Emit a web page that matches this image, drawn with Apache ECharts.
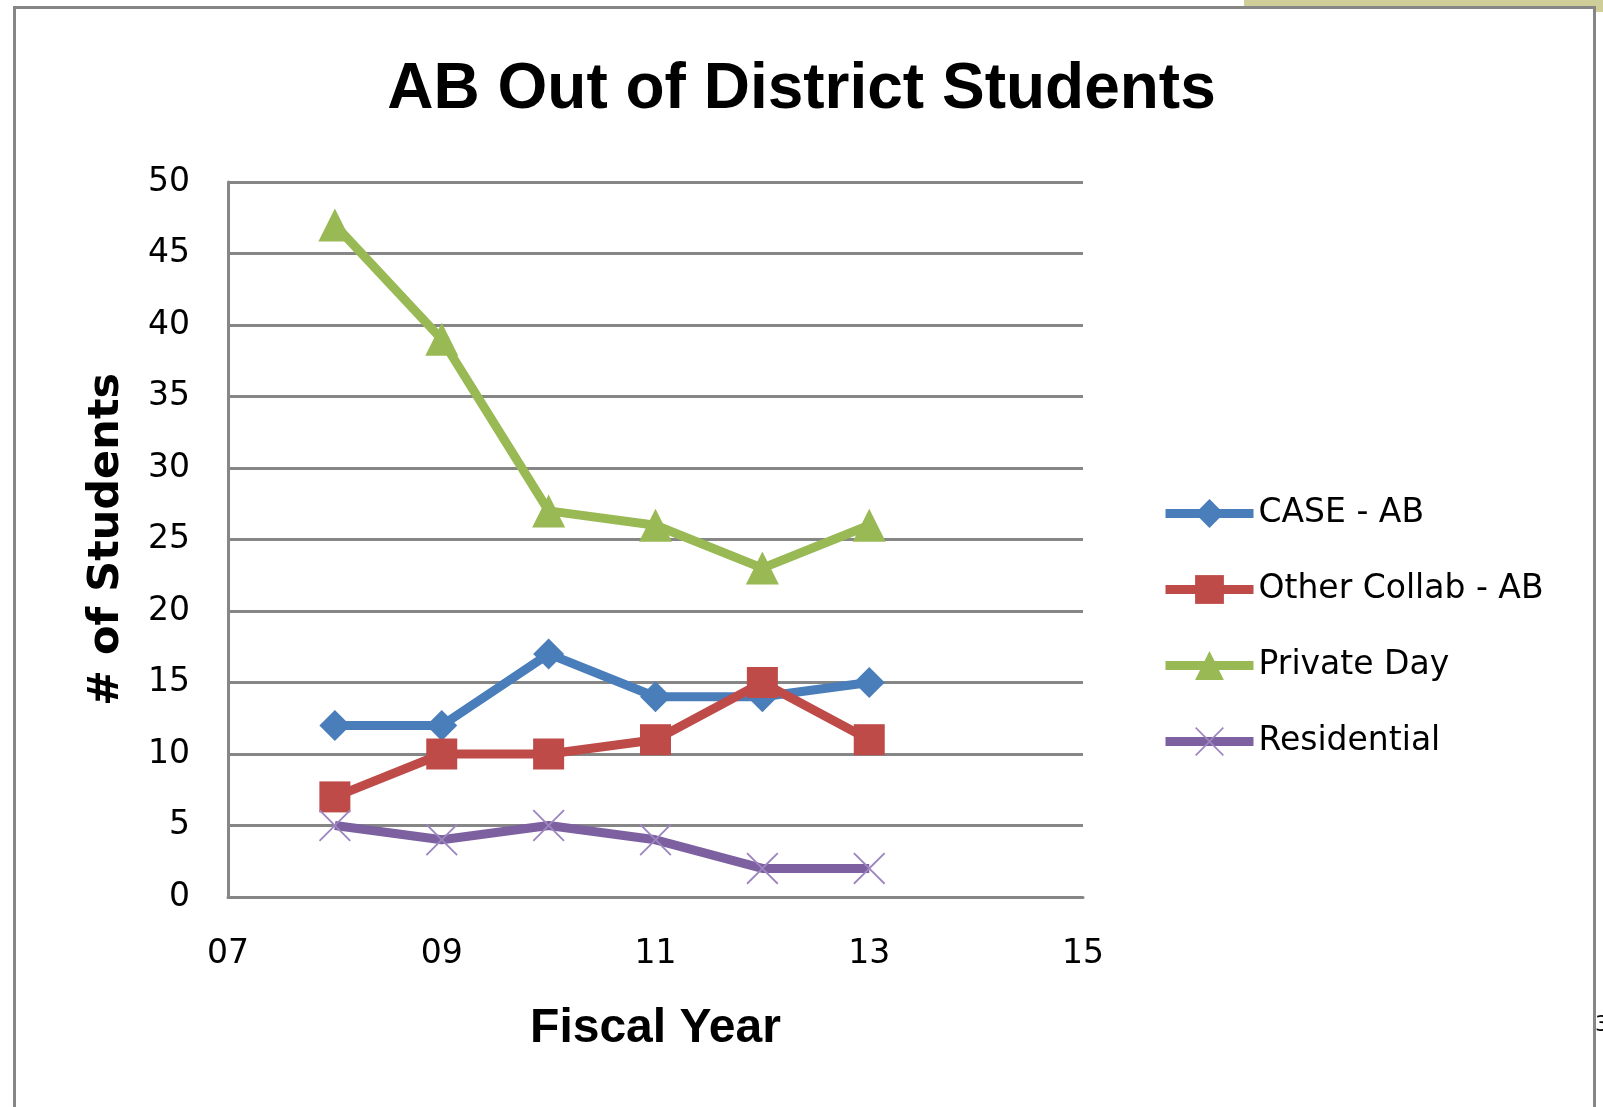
<!DOCTYPE html>
<html>
<head>
<meta charset="utf-8">
<title>AB Out of District Students</title>
<script src="https://cdn.jsdelivr.net/npm/echarts@6/dist/echarts.min.js"></script>
<style>
  html, body { margin: 0; padding: 0; background: #ffffff; }
  #chart { width: 1603px; height: 1107px; }
</style>
</head>
<body>
<div id="chart"></div>
<script>
// Fiscal years (x positions) and student counts per placement type
const fiscalYears = [8, 9, 10, 11, 12, 13];
const caseAB = [12, 12, 17, 14, 14, 15];
const otherCollabAB = [7, 10, 10, 11, 15, 11];
const privateDay = [47, 39, 27, 26, 23, 26];
const residential = [5, 4, 5, 4, 2, 2];

const seriesNames = ['CASE - AB', 'Other Collab - AB', 'Private Day', 'Residential'];
const seriesColors = ['#4A7EBB', '#BE4B48', '#98B954', '#7D60A0'];

const titleText = 'AB Out of District Students';
const xAxisTitle = 'Fiscal Year';
const yAxisTitle = '# of Students';

// thin "x" mark drawn as a filled outline
const crossPath = 'path://M0,4L4,0L50,46L96,0L100,4L54,50L100,96L96,100L50,54L4,100L0,96L46,50Z';

function pairs(values) {
  return fiscalYears.map((yr, i) => [yr, values[i]]);
}

const labelFont = 'DejaVu Sans';
const gridColor = '#868686';
const lineWidth = 9;

function lineSeries(name, values, color, symbol, size, symbolColor) {
  return {
    name: name,
    type: 'line',
    data: pairs(values),
    symbol: symbol,
    symbolSize: size,
    showSymbol: true,
    lineStyle: { color: color, width: lineWidth },
    itemStyle: { color: symbolColor || color, borderWidth: 0 },
    emphasis: { disabled: true },
    animation: false
  };
}

const chart = echarts.init(document.getElementById('chart'), null, { renderer: 'canvas' });

chart.setOption({
  backgroundColor: '#ffffff',
  animation: false,
  title: {
    text: titleText,
    left: 'center',
    top: 53,
    textStyle: {
      fontFamily: 'Liberation Sans',
      fontWeight: 'bold',
      fontSize: 64,
      color: '#000000'
    }
  },
  graphic: [
    { type: 'rect', z: -20, shape: { x: 1244, y: 0, width: 359, height: 12 }, style: { fill: '#CFCD98' } },
    { type: 'rect', z: -10, shape: { x: 14.5, y: 7.5, width: 1580, height: 1200 },
      style: { fill: '#ffffff', stroke: gridColor, lineWidth: 3 } },
    { type: 'text', z: -5, x: 1595, y: 1025,
      style: { text: '3', fontFamily: labelFont, fontSize: 22, fill: '#000000', verticalAlign: 'middle' } }
  ],
  grid: {
    left: 228,
    top: 182,
    width: 855,
    height: 715,
    containLabel: false
  },
  legend: {
    orient: 'vertical',
    left: 1156,
    top: 492,
    itemWidth: 88,
    itemHeight: 36,
    itemGap: 43,
    data: seriesNames,
    lineStyle: { width: lineWidth },
    textStyle: { fontFamily: labelFont, fontSize: 33, color: '#000000' },
    selectedMode: false
  },
  xAxis: {
    type: 'value',
    min: 7,
    max: 15,
    interval: 2,
    name: xAxisTitle,
    nameLocation: 'middle',
    nameGap: 108,
    nameTextStyle: { fontFamily: 'Liberation Sans', fontWeight: 'bold', fontSize: 48, color: '#000000' },
    axisLine: { show: true, onZero: false, lineStyle: { color: gridColor, width: 3 } },
    axisTick: { show: false },
    splitLine: { show: false },
    axisLabel: {
      margin: 41,
      fontFamily: labelFont,
      fontSize: 33,
      color: '#000000',
      formatter: v => (v < 10 ? '0' : '') + v
    }
  },
  yAxis: {
    type: 'value',
    min: 0,
    max: 50,
    interval: 5,
    name: yAxisTitle,
    nameLocation: 'middle',
    nameGap: 100,
    nameTextStyle: { fontFamily: 'DejaVu Sans', fontWeight: 'bold', fontSize: 43, color: '#000000' },
    axisLine: { show: true, lineStyle: { color: gridColor, width: 3 } },
    axisTick: { show: false },
    splitLine: { show: true, lineStyle: { color: gridColor, width: 3 } },
    axisLabel: {
      margin: 38,
      fontFamily: labelFont,
      fontSize: 33,
      color: '#000000'
    }
  },
  series: [
    lineSeries(seriesNames[0], caseAB, seriesColors[0], 'diamond', 31),
    lineSeries(seriesNames[1], otherCollabAB, seriesColors[1], 'rect', 31),
    lineSeries(seriesNames[2], privateDay, seriesColors[2], 'triangle', 33),
    lineSeries(seriesNames[3], residential, seriesColors[3], crossPath, 32, '#9C85C0')
  ]
});
</script>
</body>
</html>
